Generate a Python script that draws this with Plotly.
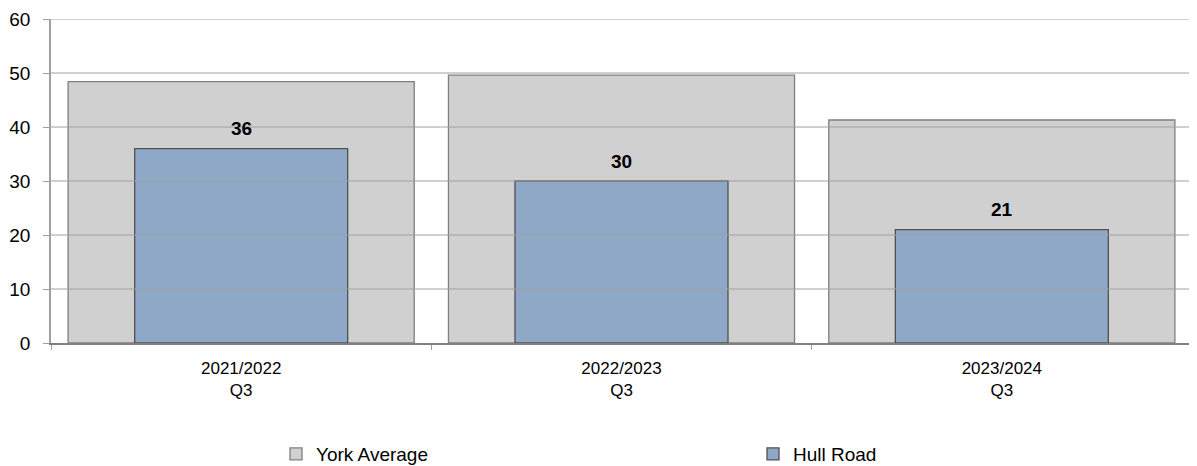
import plotly.graph_objects as go

categories = ["2021/2022<br>Q3", "2022/2023<br>Q3", "2023/2024<br>Q3"]
york_average = [48.4, 49.6, 41.3]
hull_road = [36, 30, 21]
y_ticks = [0, 10, 20, 30, 40, 50, 60]

FONT = "Liberation Sans, Arial, sans-serif"
OFF = 8  # page body margin
W, H = 1197 - OFF, 466 - OFF
L, R, T, B = 51 - OFF, 5, 19 - OFF, 123

fig = go.Figure()
fig.add_trace(go.Bar(
    x=categories, y=york_average, name="York Average", width=0.91,
    marker=dict(color="#D0D0D0", line=dict(color="#7F7F7F", width=1.3)),
    legend="legend",
))
fig.add_trace(go.Bar(
    x=categories, y=hull_road, name="Hull Road", width=0.56,
    marker=dict(color="#8FA8C7", line=dict(color="#505050", width=1.3)),
    legend="legend2",
))

shapes = []
for t in y_ticks[1:]:
    shapes.append(dict(type="line", xref="paper", yref="y", x0=0, x1=1, y0=t, y1=t,
                       line=dict(color="#A0A0A0", width=1), layer="above"))
shapes.append(dict(type="line", xref="paper", yref="paper", x0=1, x1=1, y0=0, y1=1,
                   line=dict(color="#B0B0B0", width=1.5), layer="above"))

annotations = []
for c, v in zip(categories, hull_road):
    annotations.append(dict(x=c, y=v, text=f"<b>{v}</b>", showarrow=False,
                            yanchor="middle", yshift=20,
                            font=dict(family=FONT, size=19, color="#000000")))


def leg(px_text_start):
    # px coordinates given in page space
    return dict(orientation="h", xref="container", yref="container",
                x=(px_text_start - OFF - 40) / W, xanchor="left",
                y=(H - (454 - OFF)) / H, yanchor="middle",
                font=dict(family=FONT, size=19, color="#000000"), itemwidth=30,
                bgcolor="rgba(0,0,0,0)")


fig.update_layout(
    width=W, height=H,
    margin=dict(l=L, r=R, t=T, b=B),
    barmode="overlay",
    plot_bgcolor="white", paper_bgcolor="white",
    font=dict(family=FONT, size=17, color="#000000"),
    shapes=shapes, annotations=annotations,
    legend=leg(316),
    legend2=leg(793),
    showlegend=True,
)
fig.update_xaxes(showline=True, linecolor="#808080", linewidth=1.5,
                 ticks="outside", tickson="boundaries", ticklen=5, tickcolor="#A0A0A0",
                 showgrid=False, tickfont=dict(size=17), automargin=False,
                 ticklabelstandoff=9)
fig.update_yaxes(range=[0, 60], tickvals=y_ticks, showline=True, linecolor="#A0A0A0",
                 linewidth=1.5, ticks="outside", ticklen=6, tickcolor="#A0A0A0",
                 showgrid=False, zeroline=False, tickfont=dict(size=19),
                 automargin=False, ticklabelstandoff=9)

fig.write_html("out.html")
